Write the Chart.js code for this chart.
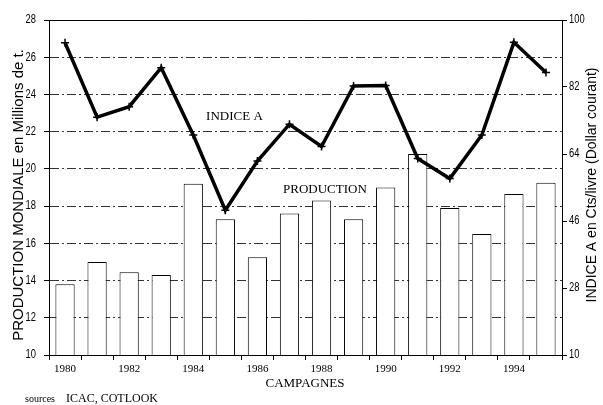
<!DOCTYPE html>
<html>
<head>
<meta charset="utf-8">
<script src="https://cdn.jsdelivr.net/npm/chart.js@4/dist/chart.umd.min.js"></script>
<style>
  html, body { margin: 0; padding: 0; background: #fff; }
  canvas { display: block; }
</style>
</head>
<body>
<canvas id="c" width="603" height="405"></canvas>
<script>
const years = ['1980','1981','1982','1983','1984','1985','1986','1987','1988','1989','1990','1991','1992','1993','1994','1995'];
const production = [13.8, 15.0, 14.45, 14.3, 19.2, 17.3, 15.25, 17.6, 18.3, 17.3, 19.0, 20.8, 17.9, 16.5, 18.65, 19.25];
const indiceA = [93.9, 73.9, 76.7, 87.2, 69.1, 48.9, 62.1, 72.0, 66.0, 82.3, 82.4, 62.8, 57.4, 69.1, 94.0, 85.9];
const leftTicks = [10, 12, 14, 16, 18, 20, 22, 24, 26, 28];
const rightTicks = [10, 28, 46, 64, 82, 100];

const SERIF = "'Liberation Serif', 'Times New Roman', serif";
const SANS = "'Liberation Sans', Arial, sans-serif";

const textPlugin = {
  id: 'texts',
  afterDraw(chart) {
    const ctx = chart.ctx;
    const a = chart.chartArea;
    const xs = chart.scales.x, ys = chart.scales.y, yr = chart.scales.y1;
    ctx.save();
    // top frame line
    ctx.strokeStyle = '#000';
    ctx.lineWidth = 1;
    ctx.beginPath();
    ctx.moveTo(a.left, a.top + 0.5);
    ctx.lineTo(a.right, a.top + 0.5);
    ctx.stroke();

    ctx.fillStyle = '#000';
    // narrow y tick labels
    ctx.font = '12px ' + SANS;
    ctx.textBaseline = 'middle';
    leftTicks.forEach(v => {
      ctx.save();
      ctx.translate(a.left - 13, ys.getPixelForValue(v));
      ctx.scale(0.78, 1);
      ctx.textAlign = 'right';
      ctx.fillText(String(v), 0, 0);
      ctx.restore();
    });
    rightTicks.forEach(v => {
      ctx.save();
      ctx.translate(a.right + 7, yr.getPixelForValue(v));
      ctx.scale(0.78, 1);
      ctx.textAlign = 'left';
      ctx.fillText(String(v), 0, 0);
      ctx.restore();
    });

    // in-chart labels
    ctx.font = '13px ' + SERIF;
    ctx.textAlign = 'left';
    ctx.textBaseline = 'middle';
    ctx.fillText('INDICE A', xs.getPixelForValue(4.4), ys.getPixelForValue(22.8));
    ctx.fillText('PRODUCTION', xs.getPixelForValue(6.8), ys.getPixelForValue(18.9));

    // axis titles
    ctx.textAlign = 'center';
    ctx.font = '15px ' + SANS;
    ctx.save();
    ctx.translate(19, 195);
    ctx.rotate(-Math.PI / 2);
    ctx.fillText('PRODUCTION MONDIALE en Millions de t.', 0, 0);
    ctx.restore();
    ctx.font = '14px ' + SANS;
    ctx.save();
    ctx.translate(592, 185);
    ctx.rotate(-Math.PI / 2);
    ctx.fillText('INDICE A en Cts/livre (Dollar courant)', 0, 0);
    ctx.restore();

    ctx.font = '13px ' + SERIF;
    ctx.textAlign = 'center';
    ctx.fillText('CAMPAGNES', 305, 384);

    ctx.textAlign = 'left';
    ctx.textBaseline = 'alphabetic';
    ctx.font = '10px ' + SERIF;
    ctx.fillText('sources', 25, 402);
    ctx.font = '12px ' + SERIF;
    ctx.fillText('ICAC, COTLOOK', 66, 402);
    ctx.restore();
  }
};

new Chart(document.getElementById('c'), {
  data: {
    labels: years,
    datasets: [
      {
        type: 'line',
        label: 'INDICE A',
        data: indiceA,
        yAxisID: 'y1',
        order: 0,
        borderColor: '#000',
        borderWidth: 3.5,
        tension: 0,
        pointStyle: 'cross',
        pointRadius: 4,
        pointBorderWidth: 1.5,
        pointBorderColor: '#000',
        fill: false
      },
      {
        type: 'bar',
        label: 'PRODUCTION',
        data: production,
        yAxisID: 'y',
        order: 1,
        backgroundColor: '#fff',
        borderColor: '#000',
        borderWidth: 1,
        categoryPercentage: 1,
        barPercentage: 0.6
      }
    ]
  },
  options: {
    responsive: false,
    animation: false,
    layout: { padding: { top: 20, left: 0, right: 0, bottom: 0 } },
    plugins: { legend: { display: false }, tooltip: { enabled: false } },
    scales: {
      x: {
        type: 'category',
        offset: true,
        grid: { display: true, drawOnChartArea: false, drawTicks: true, tickLength: 5, tickColor: '#000', color: '#000' },
        border: { color: '#000', width: 1 },
        ticks: {
          color: '#000', font: { family: SERIF, size: 11 }, padding: 3,
          autoSkip: false, maxRotation: 0, minRotation: 0,
          callback: (v, i) => (i % 2 === 0 ? years[i] : '')
        },
        afterFit(s) { s.height = 50; }
      },
      y: {
        position: 'left',
        min: leftTicks[0],
        max: leftTicks[leftTicks.length - 1],
        afterBuildTicks(s) { s.ticks = leftTicks.map(v => ({ value: v })); },
        grid: { color: '#333', lineWidth: 1, tickLength: 5, tickColor: '#000', drawTicks: true },
        border: { color: '#000', width: 1, dash: [9, 3, 2, 3] },
        ticks: { display: false },
        afterFit(s) { s.width = 49; }
      },
      y1: {
        position: 'right',
        min: rightTicks[0],
        max: rightTicks[rightTicks.length - 1],
        afterBuildTicks(s) { s.ticks = rightTicks.map(v => ({ value: v })); },
        grid: { drawOnChartArea: false, tickLength: 5, tickColor: '#000', color: '#000' },
        border: { color: '#000', width: 1 },
        ticks: { display: false },
        afterFit(s) { s.width = 41; }
      }
    }
  },
  plugins: [textPlugin]
});
</script>
</body>
</html>
